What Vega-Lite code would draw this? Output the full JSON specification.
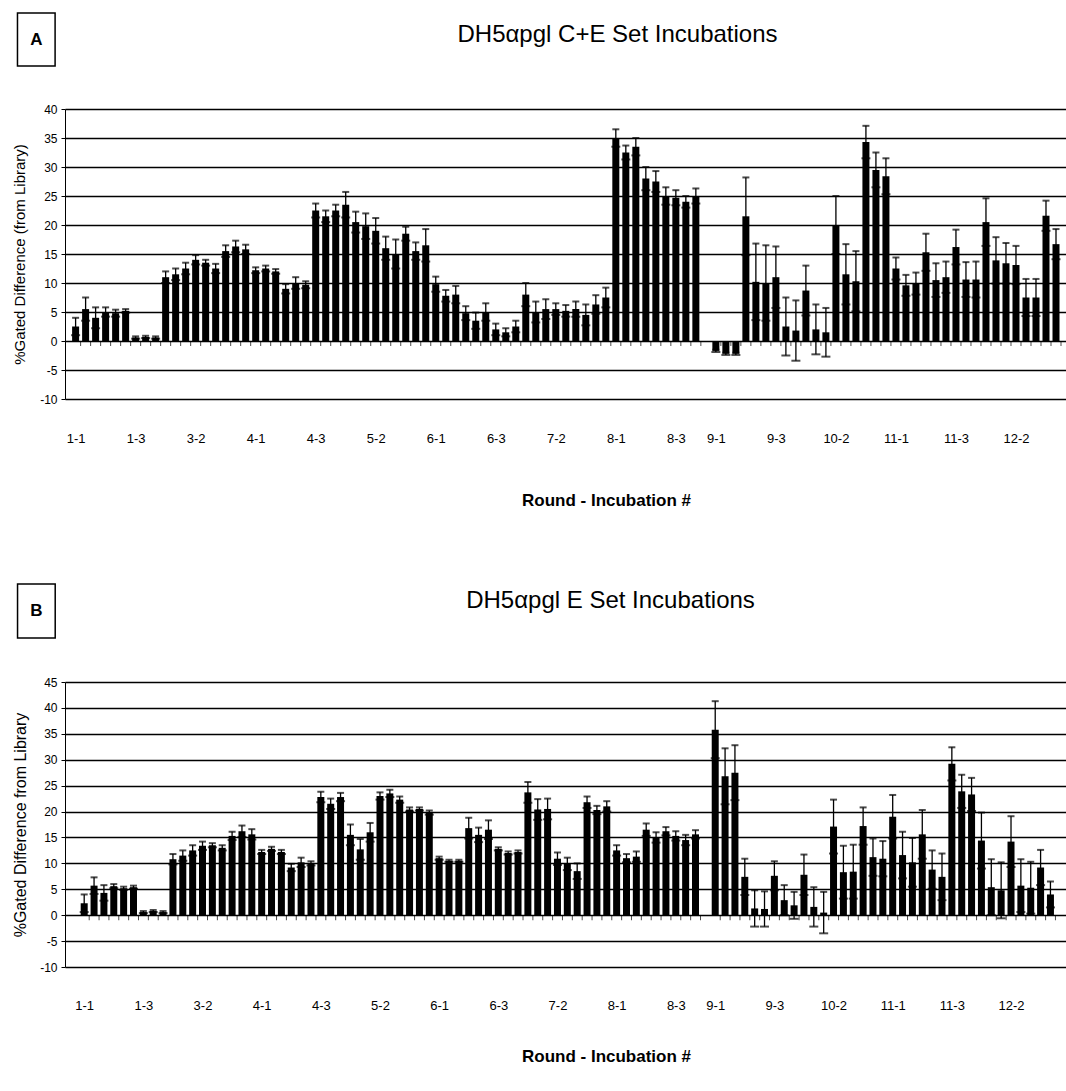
{
  "$schema": "https://vega.github.io/schema/vega-lite/v6.json",
  "padding": {"top": 12, "left": 12, "right": 0, "bottom": 5},
  "background": "white",
  "config": {"view": {"stroke": null}, "font": "Liberation Sans", "axisY": {"tickCount": 20}},
  "spacing": 75,
  "datasets": {
    "a": [
      {"k":0,"v":2.5,"lo":1.0,"hi":4.0},{"k":1,"v":5.5,"lo":3.5,"hi":7.5},{"k":2,"v":4,"lo":2.2,"hi":5.8},
      {"k":3,"v":5,"lo":4.2,"hi":5.8},{"k":4,"v":4.8,"lo":4.2,"hi":5.4},{"k":5,"v":5.2,"lo":4.9,"hi":5.5},
      {"k":6,"v":0.6,"lo":0.4,"hi":0.8},{"k":7,"v":0.7,"lo":0.5,"hi":0.9},{"k":8,"v":0.6,"lo":0.4,"hi":0.8},
      {"k":9,"v":11,"lo":10,"hi":12},{"k":10,"v":11.5,"lo":10.5,"hi":12.5},{"k":11,"v":12.5,"lo":11.5,"hi":13.5},
      {"k":12,"v":14,"lo":13.2,"hi":14.8},{"k":13,"v":13.5,"lo":13,"hi":14},{"k":14,"v":12.5,"lo":11.7,"hi":13.3},
      {"k":15,"v":15.5,"lo":14.5,"hi":16.5},{"k":16,"v":16.3,"lo":15.3,"hi":17.3},{"k":17,"v":15.8,"lo":15,"hi":16.6},
      {"k":18,"v":12.2,"lo":11.7,"hi":12.7},{"k":19,"v":12.5,"lo":12,"hi":13},{"k":20,"v":12,"lo":11.6,"hi":12.4},
      {"k":21,"v":9,"lo":8.2,"hi":9.8},{"k":22,"v":10,"lo":9,"hi":11},{"k":23,"v":9.7,"lo":9.1,"hi":10.3},
      {"k":24,"v":22.5,"lo":21.3,"hi":23.7},{"k":25,"v":21.5,"lo":20.5,"hi":22.5},{"k":26,"v":22.5,"lo":21.5,"hi":23.5},
      {"k":27,"v":23.5,"lo":21.3,"hi":25.7},{"k":28,"v":20.5,"lo":18.7,"hi":22.3},{"k":29,"v":19.8,"lo":17.6,"hi":22},
      {"k":30,"v":19,"lo":16.8,"hi":21.2},{"k":31,"v":16,"lo":14,"hi":18},{"k":32,"v":15,"lo":12.5,"hi":17.5},
      {"k":33,"v":18.5,"lo":17.3,"hi":19.7},{"k":34,"v":15.5,"lo":14,"hi":17},{"k":35,"v":16.5,"lo":13.7,"hi":19.3},
      {"k":36,"v":9.8,"lo":8.5,"hi":11.1},{"k":37,"v":7.8,"lo":6.8,"hi":8.8},{"k":38,"v":8,"lo":6.5,"hi":9.5},
      {"k":39,"v":4.8,"lo":3.6,"hi":6},{"k":40,"v":3.5,"lo":2.1,"hi":4.9},{"k":41,"v":5,"lo":3.5,"hi":6.5},
      {"k":42,"v":2,"lo":1,"hi":3},{"k":43,"v":1.5,"lo":0.8,"hi":2.2},{"k":44,"v":2.5,"lo":1.5,"hi":3.5},
      {"k":45,"v":8,"lo":6,"hi":10},{"k":46,"v":5,"lo":3.2,"hi":6.8},{"k":47,"v":5.5,"lo":3.8,"hi":7.2},
      {"k":48,"v":5.5,"lo":4.5,"hi":6.5},{"k":49,"v":5.2,"lo":4.2,"hi":6.2},{"k":50,"v":5.5,"lo":4.2,"hi":6.8},
      {"k":51,"v":4.5,"lo":2.7,"hi":6.3},{"k":52,"v":6.3,"lo":4.7,"hi":7.9},{"k":53,"v":7.5,"lo":5.8,"hi":9.2},
      {"k":54,"v":35,"lo":33.5,"hi":36.5},{"k":55,"v":32.5,"lo":31.3,"hi":33.7},{"k":56,"v":33.5,"lo":32,"hi":35},
      {"k":57,"v":28,"lo":26,"hi":30},{"k":58,"v":27.5,"lo":25.7,"hi":29.3},{"k":59,"v":25,"lo":23.5,"hi":26.5},
      {"k":60,"v":24.7,"lo":23.4,"hi":26},{"k":61,"v":24,"lo":23,"hi":25},{"k":62,"v":25,"lo":23.7,"hi":26.3},
      {"k":64,"v":-1.7,"lo":-1.9,"hi":-1.5},{"k":65,"v":-2.2,"lo":-2.4,"hi":-2.0},{"k":66,"v":-2.2,"lo":-2.4,"hi":-2.0},
      {"k":67,"v":21.5,"lo":14.8,"hi":28.2},{"k":68,"v":10.2,"lo":3.6,"hi":16.8},{"k":69,"v":10,"lo":3.5,"hi":16.5},
      {"k":70,"v":11,"lo":5.7,"hi":16.3},{"k":71,"v":2.5,"lo":-2.5,"hi":7.5},{"k":72,"v":1.8,"lo":-3.4,"hi":7},
      {"k":73,"v":8.7,"lo":4.4,"hi":13},{"k":74,"v":2,"lo":-2.3,"hi":6.3},{"k":75,"v":1.5,"lo":-2.7,"hi":5.7},
      {"k":76,"v":20,"lo":15,"hi":25},{"k":77,"v":11.5,"lo":6.3,"hi":16.7},{"k":78,"v":10.3,"lo":5.1,"hi":15.5},
      {"k":79,"v":34.3,"lo":31.5,"hi":37.1},{"k":80,"v":29.5,"lo":26.5,"hi":32.5},{"k":81,"v":28.4,"lo":25.3,"hi":31.5},
      {"k":82,"v":12.5,"lo":10.6,"hi":14.4},{"k":83,"v":9.6,"lo":7.8,"hi":11.4},{"k":84,"v":9.9,"lo":8,"hi":11.8},
      {"k":85,"v":15.3,"lo":12.1,"hi":18.5},{"k":86,"v":10.5,"lo":7.6,"hi":13.4},{"k":87,"v":11,"lo":8.3,"hi":13.7},
      {"k":88,"v":16.2,"lo":13.2,"hi":19.2},{"k":89,"v":10.6,"lo":7.6,"hi":13.6},{"k":90,"v":10.6,"lo":7.5,"hi":13.7},
      {"k":91,"v":20.5,"lo":16.4,"hi":24.6},{"k":92,"v":13.9,"lo":9.9,"hi":17.9},{"k":93,"v":13.4,"lo":9.9,"hi":16.9},
      {"k":94,"v":13.1,"lo":9.8,"hi":16.4},{"k":95,"v":7.5,"lo":4.3,"hi":10.7},{"k":96,"v":7.5,"lo":4.3,"hi":10.7},
      {"k":97,"v":21.6,"lo":19,"hi":24.2},{"k":98,"v":16.7,"lo":14.1,"hi":19.3}
    ],
    "b": [
      {"k":0,"v":2.3,"lo":0.6,"hi":4.0},{"k":1,"v":5.7,"lo":4.1,"hi":7.3},{"k":2,"v":4.3,"lo":2.8,"hi":5.8},
      {"k":3,"v":5.6,"lo":5.2,"hi":6.0},{"k":4,"v":5.2,"lo":4.9,"hi":5.5},{"k":5,"v":5.4,"lo":5.1,"hi":5.7},
      {"k":6,"v":0.6,"lo":0.4,"hi":0.8},{"k":7,"v":0.8,"lo":0.6,"hi":1.0},{"k":8,"v":0.6,"lo":0.4,"hi":0.8},
      {"k":9,"v":10.8,"lo":9.8,"hi":11.8},{"k":10,"v":11.5,"lo":10.5,"hi":12.5},{"k":11,"v":12.5,"lo":11.5,"hi":13.5},
      {"k":12,"v":13.4,"lo":12.6,"hi":14.2},{"k":13,"v":13.5,"lo":13.1,"hi":13.9},{"k":14,"v":13,"lo":12.5,"hi":13.5},
      {"k":15,"v":15.3,"lo":14.5,"hi":16.1},{"k":16,"v":16.2,"lo":15.1,"hi":17.3},{"k":17,"v":15.6,"lo":14.6,"hi":16.6},
      {"k":18,"v":12.2,"lo":11.8,"hi":12.6},{"k":19,"v":12.8,"lo":12.4,"hi":13.2},{"k":20,"v":12.2,"lo":11.8,"hi":12.6},
      {"k":21,"v":9.2,"lo":8.5,"hi":9.9},{"k":22,"v":10.2,"lo":9.3,"hi":11.1},{"k":23,"v":10,"lo":9.6,"hi":10.4},
      {"k":24,"v":22.8,"lo":21.8,"hi":23.8},{"k":25,"v":21.5,"lo":20.5,"hi":22.5},{"k":26,"v":22.8,"lo":22,"hi":23.6},
      {"k":27,"v":15.5,"lo":13.5,"hi":17.5},{"k":28,"v":12.7,"lo":10.7,"hi":14.7},{"k":29,"v":16,"lo":14.2,"hi":17.8},
      {"k":30,"v":23,"lo":22.3,"hi":23.7},{"k":31,"v":23.5,"lo":22.8,"hi":24.2},{"k":32,"v":22.3,"lo":21.7,"hi":22.9},
      {"k":33,"v":20.4,"lo":20,"hi":20.8},{"k":34,"v":20.5,"lo":20.2,"hi":20.8},{"k":35,"v":19.8,"lo":19.4,"hi":20.2},
      {"k":36,"v":11,"lo":10.7,"hi":11.3},{"k":37,"v":10.5,"lo":10.3,"hi":10.7},{"k":38,"v":10.5,"lo":10.3,"hi":10.7},
      {"k":39,"v":16.8,"lo":14.8,"hi":18.8},{"k":40,"v":15.5,"lo":14.1,"hi":16.9},{"k":41,"v":16.5,"lo":14.7,"hi":18.3},
      {"k":42,"v":12.8,"lo":12.5,"hi":13.1},{"k":43,"v":12,"lo":11.7,"hi":12.3},{"k":44,"v":12.2,"lo":11.9,"hi":12.5},
      {"k":45,"v":23.7,"lo":21.7,"hi":25.7},{"k":46,"v":20.4,"lo":18.4,"hi":22.4},{"k":47,"v":20.5,"lo":18.5,"hi":22.5},
      {"k":48,"v":10.9,"lo":9.7,"hi":12.1},{"k":49,"v":9.9,"lo":8.7,"hi":11.1},{"k":50,"v":8.5,"lo":7,"hi":10},
      {"k":51,"v":21.8,"lo":20.7,"hi":22.9},{"k":52,"v":20.3,"lo":19.5,"hi":21.1},{"k":53,"v":21,"lo":20,"hi":22},
      {"k":54,"v":12.5,"lo":11.5,"hi":13.5},{"k":55,"v":11,"lo":10.2,"hi":11.8},{"k":56,"v":11.3,"lo":10.3,"hi":12.3},
      {"k":57,"v":16.5,"lo":15.3,"hi":17.7},{"k":58,"v":15,"lo":14,"hi":16},{"k":59,"v":16.2,"lo":15.4,"hi":17},
      {"k":60,"v":15.3,"lo":14.4,"hi":16.2},{"k":61,"v":14.5,"lo":13.5,"hi":15.5},{"k":62,"v":15.6,"lo":14.8,"hi":16.4},
      {"k":64,"v":35.8,"lo":30.3,"hi":41.3},{"k":65,"v":26.8,"lo":21.4,"hi":32.2},{"k":66,"v":27.5,"lo":22.2,"hi":32.8},
      {"k":67,"v":7.4,"lo":3.9,"hi":10.9},{"k":68,"v":1.3,"lo":-2.2,"hi":4.8},{"k":69,"v":1.2,"lo":-2.2,"hi":4.6},
      {"k":70,"v":7.6,"lo":4.8,"hi":10.4},{"k":71,"v":2.9,"lo":0,"hi":5.8},{"k":72,"v":1.9,"lo":-0.7,"hi":4.5},
      {"k":73,"v":7.8,"lo":3.9,"hi":11.7},{"k":74,"v":1.6,"lo":-2.2,"hi":5.4},{"k":75,"v":0.5,"lo":-3.5,"hi":4.5},
      {"k":76,"v":17.1,"lo":11.9,"hi":22.3},{"k":77,"v":8.3,"lo":3.2,"hi":13.4},{"k":78,"v":8.4,"lo":3.2,"hi":13.6},
      {"k":79,"v":17.2,"lo":13.6,"hi":20.8},{"k":80,"v":11.2,"lo":7.6,"hi":14.8},{"k":81,"v":10.9,"lo":7.5,"hi":14.3},
      {"k":82,"v":19,"lo":14.8,"hi":23.2},{"k":83,"v":11.6,"lo":7.1,"hi":16.1},{"k":84,"v":10.2,"lo":5.5,"hi":14.9},
      {"k":85,"v":15.6,"lo":10.9,"hi":20.3},{"k":86,"v":8.8,"lo":5.1,"hi":12.5},{"k":87,"v":7.4,"lo":2.9,"hi":11.9},
      {"k":88,"v":29.2,"lo":26,"hi":32.4},{"k":89,"v":23.9,"lo":20.7,"hi":27.1},{"k":90,"v":23.3,"lo":20.1,"hi":26.5},
      {"k":91,"v":14.4,"lo":9,"hi":19.8},{"k":92,"v":5.4,"lo":0,"hi":10.8},{"k":93,"v":4.8,"lo":-0.6,"hi":10.2},
      {"k":94,"v":14.2,"lo":9.3,"hi":19.1},{"k":95,"v":5.7,"lo":0.6,"hi":10.8},{"k":96,"v":5.3,"lo":0.3,"hi":10.3},
      {"k":97,"v":9.2,"lo":5.8,"hi":12.6},{"k":98,"v":4,"lo":1.5,"hi":6.5}
    ]
  },
  "vconcat": [
    {
      "width": 1001,
      "height": 290,
      "title": {"text": "DH5αpgl C+E Set Incubations", "fontSize": 24, "fontWeight": "normal", "font": "Liberation Sans", "anchor": "middle", "frame": "group", "dx": 52, "offset": -54, "baseline": "alphabetic", "color": "#000"},
      "data": {"name": "a"},
      "layer": [
        {
          "mark": {"type": "bar", "color": "#000", "width": 7},
          "encoding": {
            "x": {"field": "k", "type": "quantitative",
              "scale": {"domain": [-0.56, 98.5], "nice": false, "zero": false},
              "axis": {"values": [0,6,12,18,24,30,36,42,48,54,60,64,70,76,82,88,94], "tickCount": 30,
                "labelExpr": "['1-1','1-3','3-2','4-1','4-3','5-2','6-1','6-3','7-2','8-1','8-3','9-1','9-3','10-2','11-1','11-3','12-2'][indexof([0,6,12,18,24,30,36,42,48,54,60,64,70,76,82,88,94], datum.value)]",
                "grid": false, "ticks": false, "domain": false, "labelPadding": 33, "labelFlush": false, "labelOverlap": false,
                "labelFontSize": 13, "labelColor": "#000", "labelFont": "Liberation Sans",
                "title": "Round - Incubation #", "titleFontSize": 17, "titleFontWeight": "bold", "titleColor": "#000", "titlePadding": 47, "titleX": 541, "titleAlign": "center", "titleFont": "Liberation Sans"}},
            "y": {"field": "v", "type": "quantitative",
              "scale": {"domain": [-10, 40], "nice": false, "zero": false},
              "axis": {"values": [-10,-5,0,5,10,15,20,25,30,35,40], "tickCount": 20, "labelExpr": "'' + datum.value", "labelOverlap": false,
                "grid": true, "gridColor": "#000", "gridWidth": 1.5, "gridOpacity": 1,
                "domainColor": "#000", "domainWidth": 1, "tickColor": "#000", "tickSize": 4, "labelPadding": 4,
                "labelFontSize": 12, "labelColor": "#000", "labelFont": "Liberation Sans",
                "title": "%Gated Difference (from Library)", "titleFontSize": 15, "titleFontWeight": "normal", "titleColor": "#000", "titlePadding": 12, "titleFont": "Liberation Sans"}}
          }
        },
        {
          "mark": {"type": "rule", "color": "#000", "strokeWidth": 1.3},
          "encoding": {"x": {"field": "k", "type": "quantitative"}, "y": {"field": "lo", "type": "quantitative"}, "y2": {"field": "hi"}}
        },
        {
          "mark": {"type": "tick", "orient": "horizontal", "color": "#000", "size": 7, "thickness": 2},
          "encoding": {"x": {"field": "k", "type": "quantitative"}, "y": {"field": "hi", "type": "quantitative"}}
        },
        {
          "mark": {"type": "tick", "orient": "horizontal", "color": "#000", "size": 9, "thickness": 2},
          "encoding": {"x": {"field": "k", "type": "quantitative"}, "y": {"field": "lo", "type": "quantitative"}}
        },
        {
          "mark": {"type": "tick", "orient": "vertical", "color": "#000", "size": 5, "thickness": 1, "xOffset": 5, "yOffset": 2.5},
          "encoding": {"x": {"field": "k", "type": "quantitative"}, "y": {"datum": 0, "type": "quantitative"}}
        },
        {
          "data": {"values": [{"label": "A"}]},
          "layer": [
            {"mark": {"type": "rect", "fill": "white", "stroke": "#000", "strokeWidth": 1.5},
             "encoding": {"x": {"datum": -5.81}, "x2": {"datum": -2.05}, "y": {"datum": 56.55}, "y2": {"datum": 47.41}}},
            {"mark": {"type": "text", "fontSize": 17, "fontWeight": "bold", "font": "Liberation Sans", "color": "#000", "align": "center", "baseline": "middle"},
             "encoding": {"x": {"datum": -3.93}, "y": {"datum": 51.9}, "text": {"field": "label"}}}
          ]
        }
      ]
    },
    {
      "width": 1001,
      "height": 285,
      "title": {"text": "DH5αpgl E Set Incubations", "fontSize": 24, "fontWeight": "normal", "font": "Liberation Sans", "anchor": "middle", "frame": "group", "dx": 45, "offset": -49, "baseline": "alphabetic", "color": "#000"},
      "data": {"name": "b"},
      "layer": [
        {
          "mark": {"type": "bar", "color": "#000", "width": 7},
          "encoding": {
            "x": {"field": "k", "type": "quantitative",
              "scale": {"domain": [-1.44, 99.07], "nice": false, "zero": false},
              "axis": {"values": [0,6,12,18,24,30,36,42,48,54,60,64,70,76,82,88,94], "tickCount": 30,
                "labelExpr": "['1-1','1-3','3-2','4-1','4-3','5-2','6-1','6-3','7-2','8-1','8-3','9-1','9-3','10-2','11-1','11-3','12-2'][indexof([0,6,12,18,24,30,36,42,48,54,60,64,70,76,82,88,94], datum.value)]",
                "grid": false, "ticks": false, "domain": false, "labelPadding": 32, "labelFlush": false, "labelOverlap": false,
                "labelFontSize": 13, "labelColor": "#000", "labelFont": "Liberation Sans",
                "title": "Round - Incubation #", "titleFontSize": 17, "titleFontWeight": "bold", "titleColor": "#000", "titlePadding": 36, "titleX": 541, "titleAlign": "center", "titleFont": "Liberation Sans"}},
            "y": {"field": "v", "type": "quantitative",
              "scale": {"domain": [-10, 45], "nice": false, "zero": false},
              "axis": {"values": [-10,-5,0,5,10,15,20,25,30,35,40,45], "tickCount": 20, "labelExpr": "'' + datum.value", "labelOverlap": false,
                "grid": true, "gridColor": "#000", "gridWidth": 1.5, "gridOpacity": 1,
                "domainColor": "#000", "domainWidth": 1, "tickColor": "#000", "tickSize": 4, "labelPadding": 4,
                "labelFontSize": 12, "labelColor": "#000", "labelFont": "Liberation Sans",
                "title": "%Gated Difference from Library", "titleFontSize": 16, "titleFontWeight": "normal", "titleColor": "#000", "titlePadding": 11, "titleFont": "Liberation Sans"}}
          }
        },
        {
          "mark": {"type": "rule", "color": "#000", "strokeWidth": 1.3},
          "encoding": {"x": {"field": "k", "type": "quantitative"}, "y": {"field": "lo", "type": "quantitative"}, "y2": {"field": "hi"}}
        },
        {
          "mark": {"type": "tick", "orient": "horizontal", "color": "#000", "size": 7, "thickness": 2},
          "encoding": {"x": {"field": "k", "type": "quantitative"}, "y": {"field": "hi", "type": "quantitative"}}
        },
        {
          "mark": {"type": "tick", "orient": "horizontal", "color": "#000", "size": 9, "thickness": 2},
          "encoding": {"x": {"field": "k", "type": "quantitative"}, "y": {"field": "lo", "type": "quantitative"}}
        },
        {
          "mark": {"type": "tick", "orient": "vertical", "color": "#000", "size": 5, "thickness": 1, "xOffset": 5, "yOffset": 2.5},
          "encoding": {"x": {"field": "k", "type": "quantitative"}, "y": {"datum": 0, "type": "quantitative"}}
        },
        {
          "data": {"values": [{"label": "B"}]},
          "layer": [
            {"mark": {"type": "rect", "fill": "white", "stroke": "#000", "strokeWidth": 1.5},
             "encoding": {"x": {"datum": -6.76}, "x2": {"datum": -2.94}, "y": {"datum": 63.9}, "y2": {"datum": 53.5}}},
            {"mark": {"type": "text", "fontSize": 17, "fontWeight": "bold", "font": "Liberation Sans", "color": "#000", "align": "center", "baseline": "middle"},
             "encoding": {"x": {"datum": -4.85}, "y": {"datum": 58.7}, "text": {"field": "label"}}}
          ]
        }
      ]
    }
  ]
}
